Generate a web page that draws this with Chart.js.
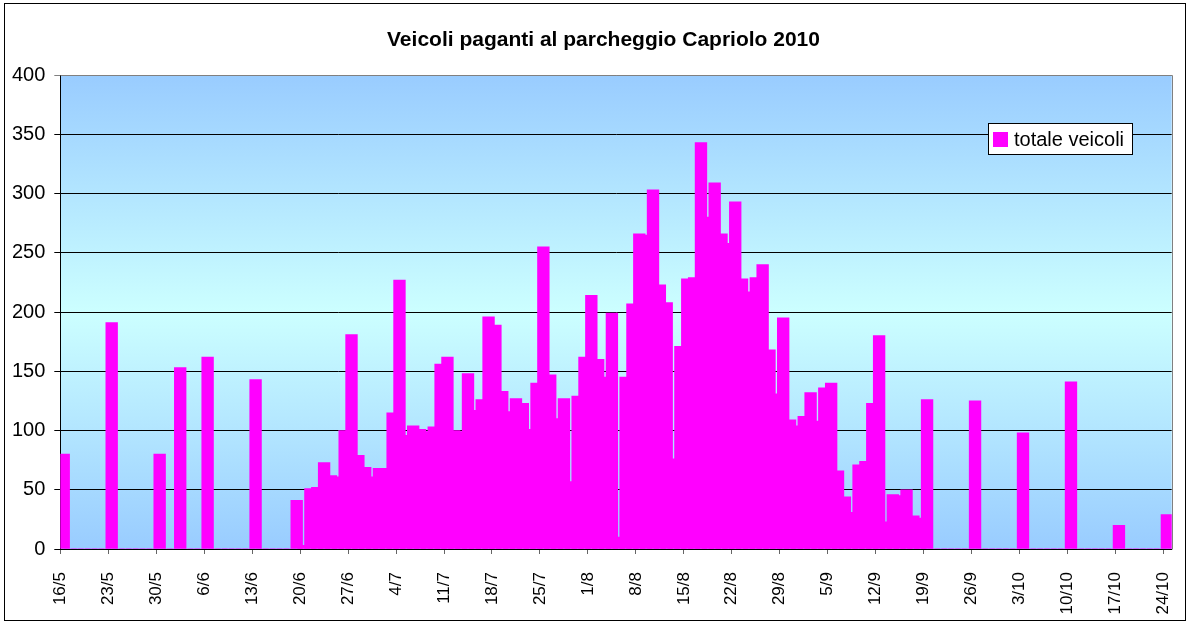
<!DOCTYPE html>
<html lang="it">
<head>
<meta charset="utf-8">
<title>Veicoli paganti al parcheggio Capriolo 2010</title>
<script src="https://cdn.jsdelivr.net/npm/chart.js@4.4.1/dist/chart.umd.min.js"></script>
<style>
  html, body { margin: 0; padding: 0; background: #fff; }
  canvas { display: block; }
</style>
</head>
<body>
<canvas id="grafico" width="1190" height="624"></canvas>
<script>
// un valore per giorno, dal 16/5 al 24/10 (una riga = una settimana)
const totaleVeicoli = [
  80, 0, 0, 0, 0, 0, 0,
  191, 0, 0, 0, 0, 0, 0,
  80, 0, 0, 153, 0, 0, 0,
  162, 0, 0, 0, 0, 0, 0,
  143, 0, 0, 0, 0, 0, 41,
  3, 51, 52, 73, 62, 61, 100,
  181, 79, 69, 61, 68, 68, 115,
  227, 96, 104, 101, 99, 103, 156,
  162, 100, 99, 148, 117, 126, 196,
  189, 133, 116, 127, 123, 101, 140,
  255, 147, 110, 127, 57, 129, 162,
  214, 160, 145, 199, 10, 145, 207,
  266, 265, 303, 223, 208, 76, 171,
  228, 229, 343, 280, 309, 266, 258,
  293, 228, 217, 229, 240, 168, 131,
  195, 109, 104, 112, 132, 108, 136,
  140, 66, 44, 31, 71, 74, 123,
  180, 23, 46, 45, 50, 28, 26,
  126, 0, 0, 0, 0, 0, 0,
  125, 0, 0, 0, 0, 0, 0,
  98, 0, 0, 0, 0, 0, 0,
  141, 0, 0, 0, 0, 0, 0,
  20, 0, 0, 0, 0, 0, 0,
  29
];

// etichette dell'asse x, una ogni 7 giorni
const etichette = ['16/5', '23/5', '30/5', '6/6', '13/6', '20/6', '27/6', '4/7', '11/7', '18/7',
  '25/7', '1/8', '8/8', '15/8', '22/8', '29/8', '5/9', '12/9', '19/9', '26/9', '3/10', '10/10',
  '17/10', '24/10'];

const tickY = [0, 50, 100, 150, 200, 250, 300, 350, 400];

const titolo = 'Veicoli paganti al parcheggio Capriolo 2010';

const FONT = 'Liberation Sans';

// sfondo sfumato dell'area del grafico, bordi, titolo e legenda
const sfondo = {
  id: 'sfondo',
  beforeDraw(chart) {
    const { ctx, chartArea: a } = chart;
    const g = ctx.createLinearGradient(0, a.top, 0, a.bottom);
    g.addColorStop(0, '#99CCFF');
    g.addColorStop(0.5, '#CCFFFF');
    g.addColorStop(1, '#99CCFF');
    ctx.save();
    ctx.fillStyle = g;
    ctx.fillRect(a.left, a.top, a.right - a.left, a.bottom - a.top);
    ctx.strokeStyle = '#000';
    ctx.lineWidth = 1;
    ctx.strokeRect(4.5, 3.5, 1181, 617);
    // titolo
    ctx.fillStyle = '#000';
    ctx.font = 'bold 21px "' + FONT + '"';
    ctx.textAlign = 'center';
    ctx.textBaseline = 'middle';
    ctx.fillText(titolo, 603.5, 40);
    ctx.restore();
  },
  afterDatasetsDraw(chart) {
    const { ctx, chartArea: a } = chart;
    ctx.save();
    ctx.strokeStyle = '#808080';
    ctx.lineWidth = 1;
    ctx.beginPath();
    ctx.moveTo(Math.round(a.left) + 0.5, Math.round(a.top) + 0.5);
    ctx.lineTo(Math.round(a.right) + 0.5, Math.round(a.top) + 0.5);
    ctx.lineTo(Math.round(a.right) + 0.5, Math.round(a.bottom) + 0.5);
    ctx.stroke();
    ctx.restore();
  },
  afterDraw(chart) {
    const { ctx } = chart;
    const ds = chart.data.datasets[0];
    ctx.save();
    ctx.fillStyle = '#fff';
    ctx.fillRect(988, 123, 144, 31);
    ctx.strokeStyle = '#000';
    ctx.strokeRect(988.5, 123.5, 144, 31);
    ctx.fillStyle = ds.backgroundColor;
    ctx.fillRect(993, 132, 15, 15);
    ctx.fillStyle = '#000';
    ctx.font = '20px "' + FONT + '"';
    ctx.textBaseline = 'middle';
    ctx.fillText(ds.label, 1014, 140);
    ctx.restore();
  }
};

const ctx = document.getElementById('grafico').getContext('2d');

new Chart(ctx, {
  type: 'bar',
  data: {
    datasets: [{
      label: 'totale veicoli',
      data: totaleVeicoli.map((v, i) => ({ x: i + 0.5, y: v })),
      backgroundColor: '#FF00FF',
      borderWidth: 0,
      barThickness: 11.7,
      clip: 0
    }]
  },
  options: {
    responsive: false,
    animation: false,
    devicePixelRatio: 1,
    layout: { padding: { left: 4, right: 18.3, top: 75, bottom: 0 } },
    scales: {
      x: {
        type: 'linear',
        offset: false,
        min: 0,
        max: 162.2,
        afterBuildTicks: (s) => { s.ticks = etichette.map((_, k) => ({ value: k * 7 })); },
        afterFit: (s) => {
          s.height = 75;
          s.paddingLeft = 0;
          s.paddingRight = 0;
        },
        grid: { offset: false, drawOnChartArea: false, drawTicks: true, tickLength: 5, color: '#666' },
        border: { color: '#000' },
        ticks: {
          autoSkip: false,
          minRotation: 90,
          maxRotation: 90,
          padding: 18,
          color: '#000',
          font: { family: FONT, size: 17 },
          callback: (v) => etichette[Math.round(v / 7)]
        }
      },
      y: {
        min: 0,
        max: 400,
        afterBuildTicks: (s) => { s.ticks = tickY.map((v) => ({ value: v })); },
        afterFit: (s) => { s.width = 56.3; },
        grid: { color: (c) => (c.tick && c.tick.value === 400 ? '#808080' : '#000'), tickLength: 6 },
        border: { color: '#000' },
        ticks: { padding: 9, color: '#000', font: { family: FONT, size: 20 } }
      }
    },
    plugins: {
      legend: { display: false },
      tooltip: { enabled: false },
      title: { display: false }
    }
  },
  plugins: [sfondo]
});
</script>
</body>
</html>
